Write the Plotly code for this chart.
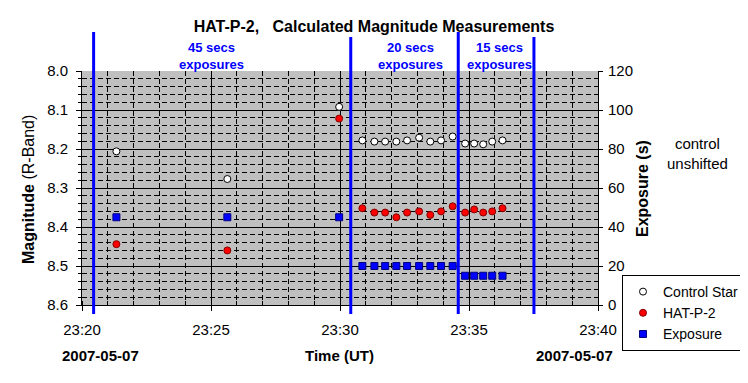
import plotly.graph_objects as go

# ---------------- data ----------------
obs_date = "2007-05-07"
obs_times = ["23:21:20", "23:25:38", "23:29:58",
             "23:30:52", "23:31:20", "23:31:45", "23:32:11", "23:32:36",
             "23:33:04", "23:33:30", "23:33:55", "23:34:22",
             "23:34:51", "23:35:12", "23:35:33", "23:35:54", "23:36:18"]
control_star = [8.206, 8.277, 8.092,
                8.178, 8.181, 8.181, 8.181, 8.178, 8.171, 8.181, 8.178, 8.168,
                8.186, 8.186, 8.188, 8.181, 8.178]
hat_p2 = [8.444, 8.460, 8.122,
          8.352, 8.363, 8.363, 8.375, 8.363, 8.360, 8.369, 8.360, 8.347,
          8.363, 8.355, 8.363, 8.360, 8.352]
exposure_s = [45, 45, 45,
              20, 20, 20, 20, 20, 20, 20, 20, 20,
              15, 15, 15, 15, 15]
block_boundaries = ["23:20:27", "23:30:25", "23:34:35", "23:37:31"]
block_labels = ["45 secs<br>exposures", "20 secs<br>exposures", "15 secs<br>exposures"]
block_label_times = ["23:25:01", "23:32:44", "23:36:10"]
mag_ticks = [8.0, 8.1, 8.2, 8.3, 8.4, 8.5, 8.6]
exp_ticks = [0, 20, 40, 60, 80, 100, 120]

x = [f"{obs_date} {t}" for t in obs_times]

# ---------------- geometry helpers ----------------
# The page body has a default 8px margin, so the figure is drawn at (8, 8).
OFF = 8
W, H = 748 - OFF, 383 - OFF
PLOT_L, PLOT_R, PLOT_T, PLOT_B = 82, 598, 71, 305   # page pixel coords
L, T = PLOT_L - OFF, PLOT_T - OFF
R, B = W - (PLOT_R - OFF), H - (PLOT_B - OFF)
PW, PH = PLOT_R - PLOT_L, PLOT_B - PLOT_T


def px(xp):
    return (xp - PLOT_L) / PW


def py(yp):
    return (PLOT_B - yp) / PH


FONT = "Liberation Sans, Arial, sans-serif"

fig = go.Figure()
fig.add_trace(go.Scatter(
    x=x, y=control_star, mode="markers", name="Control Star",
    marker=dict(symbol="circle", size=7, color="white",
                line=dict(color="black", width=1)),
))
fig.add_trace(go.Scatter(
    x=x, y=hat_p2, mode="markers", name="HAT-P-2",
    marker=dict(symbol="circle", size=7, color="#FF0000",
                line=dict(color="#800000", width=1)),
))
fig.add_trace(go.Scatter(
    x=x, y=exposure_s, mode="markers", name="Exposure", yaxis="y2",
    marker=dict(symbol="square", size=7, color="#0000FF",
                line=dict(color="#000080", width=1)),
))

# vertical block boundary lines
tops = [py(32), py(37), py(32), py(37)]
for t, top in zip(block_boundaries, tops):
    fig.add_shape(type="line", xref="x", yref="paper",
                  x0=f"{obs_date} {t}", x1=f"{obs_date} {t}",
                  y0=py(314), y1=top, layer="above",
                  line=dict(color="#0000FF", width=3))

ann = []
for lab, t in zip(block_labels, block_label_times):
    ann.append(dict(text=f"<b>{lab}</b>", xref="x", yref="paper",
                    x=f"{obs_date} {t}", y=py(55.5), showarrow=False,
                    font=dict(family=FONT, size=13, color="#0000FF"),
                    xanchor="center", yanchor="middle"))

ann += [
    dict(text="<b>Magnitude</b> (R-Band)", xref="paper", yref="paper",
         x=px(28), y=py(190), textangle=-90, showarrow=False,
         font=dict(family=FONT, size=16, color="black"),
         xanchor="center", yanchor="middle"),
    dict(text="<b>Exposure (s)</b>", xref="paper", yref="paper",
         x=px(642), y=py(189), textangle=-90, showarrow=False,
         font=dict(family=FONT, size=16, color="black"),
         xanchor="center", yanchor="middle"),
    dict(text="control<br>unshifted", xref="paper", yref="paper",
         x=px(697), y=py(153.5), showarrow=False,
         font=dict(family=FONT, size=15, color="black"),
         xanchor="center", yanchor="middle"),
    dict(text=f"<b>{obs_date}</b>", xref="paper", yref="paper",
         x=px(100), y=py(355), showarrow=False,
         font=dict(family=FONT, size=15, color="black"),
         xanchor="center", yanchor="middle"),
    dict(text=f"<b>{obs_date}</b>", xref="paper", yref="paper",
         x=px(574.5), y=py(355), showarrow=False,
         font=dict(family=FONT, size=15, color="black"),
         xanchor="center", yanchor="middle"),
    dict(text="<b>Time (UT)</b>", xref="paper", yref="paper",
         x=px(339), y=py(355), showarrow=False,
         font=dict(family=FONT, size=15, color="black"),
         xanchor="center", yanchor="middle"),
]

fig.update_layout(
    width=W, height=H,
    margin=dict(l=L, r=R, t=T, b=B, pad=0, autoexpand=False),
    paper_bgcolor="white",
    plot_bgcolor="#C0C0C0",
    font=dict(family=FONT, size=15, color="black"),
    title=dict(text="<b>HAT-P-2,\u00a0\u00a0\u00a0Calculated Magnitude Measurements</b>",
               x=(374 - OFF) / W, xref="container", xanchor="center",
               y=1 - (26 - OFF) / H, yanchor="middle",
               font=dict(family=FONT, size=16, color="black")),
    xaxis=dict(
        type="date",
        range=[f"{obs_date} 23:20:00", f"{obs_date} 23:40:00"],
        dtick=300000, tick0=f"{obs_date} 23:20:00", tickformat="%H:%M",
        ticks="outside", ticklen=5, tickcolor="black",
        ticklabelstandoff=6,
        showgrid=True, gridcolor="black", gridwidth=1,
        showline=True, linecolor="black", linewidth=1,
        zeroline=False,
        tickfont=dict(family=FONT, size=15, color="black"),
        minor=dict(dtick=60000, showgrid=True, gridcolor="black",
                   griddash="5px,3px", gridwidth=1,
                   ticks="inside", ticklen=4, tickcolor="black"),
    ),
    yaxis=dict(
        range=[8.6, 8.0], tickvals=mag_ticks, tickformat=".1f",
        ticks="outside", ticklen=5, tickcolor="black",
        ticklabelstandoff=5,
        showgrid=True, gridcolor="black", gridwidth=1,
        showline=True, linecolor="black", linewidth=1,
        zeroline=False,
        tickfont=dict(family=FONT, size=15, color="black"),
        minor=dict(dtick=0.02, showgrid=True, gridcolor="black",
                   griddash="5px,3px", gridwidth=1,
                   ticks="outside", ticklen=3, tickcolor="black"),
    ),
    yaxis2=dict(
        overlaying="y", side="right", range=[0, 120], tickvals=exp_ticks,
        ticks="outside", ticklen=4, tickcolor="black",
        ticklabelstandoff=2,
        showgrid=False, zeroline=False,
        showline=True, linecolor="black", linewidth=1,
        tickfont=dict(family=FONT, size=15, color="black"),
    ),
    legend=dict(
        x=px(622), y=py(275), xanchor="left", yanchor="top",
        bgcolor="white", bordercolor="black", borderwidth=1,
        font=dict(family=FONT, size=14, color="black"),
        tracegroupgap=0, itemwidth=30,
    ),
    annotations=ann,
    showlegend=True,
)

fig.write_html("out.html")
